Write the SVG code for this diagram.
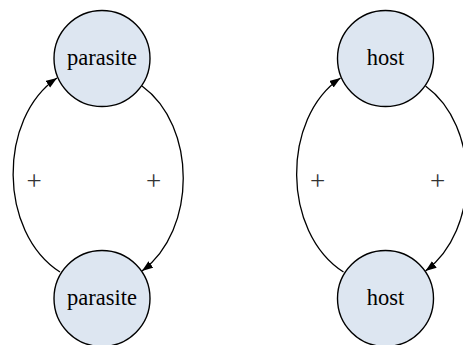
<svg xmlns="http://www.w3.org/2000/svg" width="463" height="345" viewBox="0 0 463 345">
<style>
.node{fill:#dde6f1;stroke:#000;stroke-width:1.4}
.lbl{font-family:'Liberation Serif','Times New Roman',serif;font-size:22.5px;fill:#000;text-anchor:middle}
.plus{font-family:'Liberation Serif','Times New Roman',serif;font-size:27px;fill:#333;text-anchor:middle}
.edge{fill:none;stroke:#000;stroke-width:1.3;marker-end:url(#arr)}
</style>
<defs>
<marker id="arr" markerUnits="userSpaceOnUse" markerWidth="12" markerHeight="10" refX="11" refY="4" orient="auto">
<path d="M0,0 L11,4 L0,8 Z" fill="#000"/>
</marker>
</defs>
<rect width="463" height="345" fill="#fff"/>
<g id="connectors">
<path class="edge" d="M60,272 C-2,232 -2,118 57,78"/>
<path class="edge" d="M142,86 C197,126 197,230 142,271"/>
<path class="edge" d="M343.5,272 C281.5,232 281.5,118 340.5,78"/>
<path class="edge" d="M425.5,86 C480.5,126 480.5,230 425.5,271"/>
</g>
<g id="parasite-top"><circle class="node" cx="102" cy="58.5" r="48"/><text class="lbl" x="102" y="65">parasite</text></g>
<g id="parasite-bottom"><circle class="node" cx="102" cy="298.5" r="48"/><text class="lbl" x="102" y="305">parasite</text></g>
<g id="host-top"><circle class="node" cx="385.5" cy="58.5" r="48"/><text class="lbl" x="385.5" y="65">host</text></g>
<g id="host-bottom"><circle class="node" cx="385.5" cy="298.5" r="48"/><text class="lbl" x="385.5" y="305">host</text></g>
<g id="edge-labels">
<text class="plus" x="34" y="190">+</text>
<text class="plus" x="153.5" y="190">+</text>
<text class="plus" x="317.5" y="190">+</text>
<text class="plus" x="437.5" y="190">+</text>
</g>
</svg>
